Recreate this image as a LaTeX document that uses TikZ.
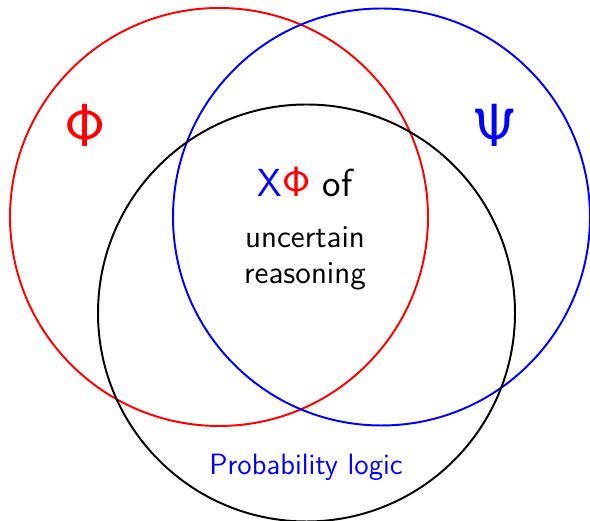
\documentclass[tikz,border=0pt]{standalone}
\usepackage{tikz}
\usetikzlibrary{positioning}

\begin{document}
\begin{tikzpicture}[
  x=0.014354cm, y=-0.014354cm,
  ring/.style  = {draw=#1, thick},
  greek/.style = {text=#1, font=\Huge\sffamily, inner sep=0pt},
  theme/.style = {font=\fontsize{16}{19}\selectfont\sffamily, inner sep=0pt},
  body/.style  = {font=\fontsize{13}{14.5}\selectfont\sffamily, align=center, inner sep=0pt},
  note/.style  = {text=#1, font=\large\sffamily, inner sep=0pt}
]
\useasboundingbox (0,0) rectangle (590,521);

% Three overlapping circles
\draw[ring=red]   (219,217) circle (209);
\draw[ring=blue]  (381.5,217) circle (208.5);
\draw[ring=black] (306.5,313) circle (208.5);

% Greek labels
\node[greek=red]  (phi) at (85,125)  {$\mathsf{\Phi}$};
\node[greek=blue] (psi) at (495,125) {$\mathsf{\Psi}$};

% Central text
\node[theme]                  (xphi) at (305,182) {\textcolor{blue}{X}\textcolor{red}{$\mathsf{\Phi}$} of};
\node[body, below=0.42cm of xphi] (unc)         {uncertain\\reasoning};

% Bottom label
\node[note=blue] (plog) at (306,467) {Probability logic};

\end{tikzpicture}
\end{document}
